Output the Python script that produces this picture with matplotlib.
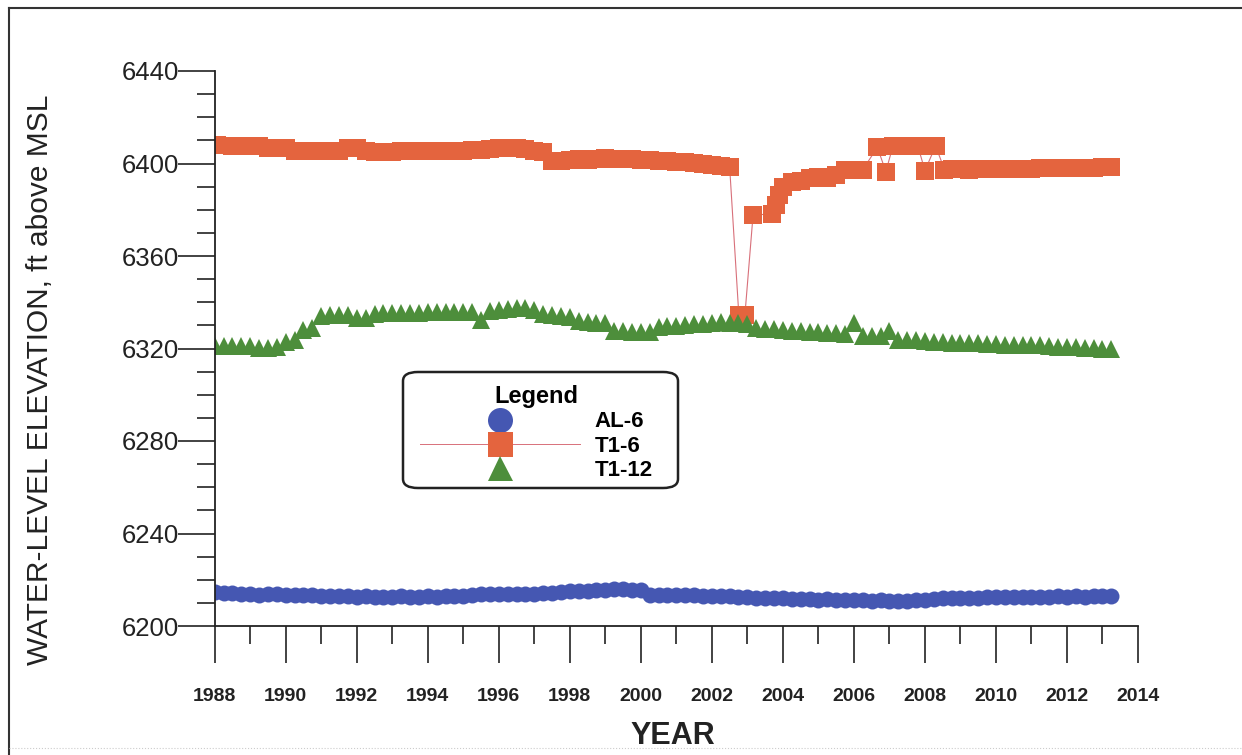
import numpy as np
import matplotlib
matplotlib.use("Agg")
import matplotlib.pyplot as plt
from matplotlib.lines import Line2D
from matplotlib.patches import FancyBboxPatch
from matplotlib.ticker import MultipleLocator

plt.rcParams['font.family'] = ['Liberation Sans', 'DejaVu Sans']

# quarterly readings, one row per year (2013 only has two)
al6_years = list(range(1988, 2014))
al6_level = [
    [6214.8, 6214.4, 6214.2, 6214.0],
    [6213.9, 6213.2, 6213.8, 6213.7],
    [6213.6, 6213.4, 6213.3, 6213.2],
    [6213.0, 6212.9, 6212.8, 6212.8],
    [6212.7, 6212.8, 6212.7, 6212.6],
    [6212.7, 6212.8, 6212.6, 6212.7],
    [6212.8, 6212.7, 6212.9, 6212.8],
    [6213.0, 6213.6, 6213.8, 6213.7],
    [6213.8, 6213.9, 6213.8, 6213.9],
    [6214.0, 6214.1, 6214.2, 6214.6],
    [6215.2, 6215.1, 6215.3, 6215.4],
    [6215.6, 6216.1, 6215.8, 6215.6],
    [6215.5, 6213.6, 6213.5, 6213.4],
    [6213.3, 6213.3, 6213.2, 6213.1],
    [6213.1, 6213.0, 6212.8, 6212.7],
    [6212.5, 6212.3, 6212.2, 6212.0],
    [6211.9, 6211.7, 6211.6, 6211.5],
    [6211.4, 6211.5, 6211.3, 6211.2],
    [6211.2, 6211.1, 6211.0, 6211.1],
    [6211.0, 6210.9, 6211.0, 6211.1],
    [6211.2, 6211.6, 6212.0, 6212.2],
    [6212.1, 6212.0, 6212.1, 6212.6],
    [6212.7, 6212.6, 6212.7, 6212.6],
    [6212.7, 6212.6, 6212.7, 6212.8],
    [6212.7, 6212.8, 6212.7, 6212.8],
    [6212.8, 6212.8],
]

t1_12_years = list(range(1988, 2014))
t1_12_level = [
    [6321.0, 6321.2, 6321.0, 6321.1],
    [6321.0, 6320.4, 6320.3, 6320.5],
    [6323.0, 6323.8, 6328.0, 6329.0],
    [6334.0, 6334.6, 6334.5, 6334.4],
    [6333.2, 6333.0, 6335.0, 6335.2],
    [6335.3, 6335.4, 6335.5, 6335.5],
    [6335.6, 6335.6, 6335.7, 6335.8],
    [6335.8, 6335.9, 6332.3, 6336.2],
    [6336.8, 6337.2, 6337.5, 6337.3],
    [6336.8, 6335.0, 6334.5, 6334.2],
    [6333.8, 6331.8, 6331.4, 6331.2],
    [6331.0, 6327.5, 6327.4, 6327.3],
    [6327.2, 6327.3, 6329.4, 6329.6],
    [6329.8, 6330.1, 6330.4, 6330.8],
    [6331.0, 6331.3, 6331.2, 6331.0],
    [6330.8, 6329.0, 6328.6, 6328.3],
    [6328.0, 6327.7, 6327.5, 6327.2],
    [6327.0, 6326.8, 6326.6, 6326.4],
    [6331.0, 6325.5, 6325.4, 6325.3],
    [6327.6, 6323.8, 6323.7, 6323.6],
    [6323.3, 6322.8, 6322.6, 6322.5],
    [6322.4, 6322.3, 6322.2, 6322.0],
    [6321.8, 6321.7, 6321.6, 6321.5],
    [6321.4, 6321.3, 6321.0, 6320.8],
    [6320.6, 6320.5, 6320.3, 6320.2],
    [6320.0, 6319.8],
]

# T1-6 was sampled irregularly around the 2002-2008 disturbance
t1_6_date = [
    1988.07, 1988.50, 1988.75, 1989.00, 1989.25, 1989.50, 1989.75,
    1990.00, 1990.25, 1990.50, 1990.75, 1991.00, 1991.25, 1991.50, 1991.75,
    1992.00, 1992.25, 1992.50, 1992.75, 1993.00, 1993.25, 1993.50, 1993.75,
    1994.00, 1994.25, 1994.50, 1994.75, 1995.00, 1995.25, 1995.50, 1995.75,
    1996.00, 1996.25, 1996.50, 1996.75, 1997.00, 1997.25, 1997.50, 1997.75,
    1998.00, 1998.25, 1998.50, 1998.75, 1999.00, 1999.25, 1999.50, 1999.75,
    2000.00, 2000.25, 2000.50, 2000.75, 2001.00, 2001.25, 2001.50, 2001.75,
    2002.00, 2002.25, 2002.50, 2002.76, 2002.93, 2003.16, 2003.69, 2003.80,
    2003.90, 2004.00, 2004.25, 2004.50, 2004.75, 2005.00, 2005.25, 2005.50,
    2005.75, 2006.00, 2006.25, 2006.66, 2006.90, 2007.10, 2007.35, 2007.60,
    2007.80, 2008.00, 2008.30, 2008.55, 2008.75,
    2009.00, 2009.25, 2009.50, 2009.75, 2010.00, 2010.25, 2010.50, 2010.75,
    2011.00, 2011.25, 2011.50, 2011.75, 2012.00, 2012.25, 2012.50, 2012.75,
    2013.00, 2013.25,
]
t1_6_level = [
    6408.2, 6407.6, 6407.7, 6407.6, 6407.5, 6406.7, 6406.6,
    6406.5, 6405.5, 6405.4, 6405.3, 6405.4, 6405.3, 6405.4, 6406.6,
    6406.5, 6405.2, 6405.1, 6405.0, 6405.1, 6405.2, 6405.5, 6405.4,
    6405.5, 6405.4, 6405.5, 6405.6, 6405.5, 6405.7, 6405.8, 6406.4,
    6406.6, 6406.8, 6406.7, 6406.4, 6405.5, 6405.0, 6400.9, 6401.0,
    6401.6, 6401.8, 6401.7, 6402.0, 6402.2, 6402.1, 6402.0, 6401.8,
    6401.6, 6401.5, 6401.2, 6400.9, 6400.8, 6400.5, 6400.3, 6399.8,
    6399.3, 6399.0, 6398.7, 6334.4, 6334.4, 6377.7, 6378.2, 6382.1,
    6386.4, 6390.0, 6392.0, 6392.3, 6393.9, 6394.3, 6393.8, 6395.0,
    6397.0, 6397.2, 6397.3, 6407.0, 6396.5, 6407.6, 6407.6, 6407.5,
    6407.6, 6396.9, 6407.6, 6397.4, 6397.5,
    6397.5, 6397.4, 6397.5, 6397.6, 6397.5, 6397.6, 6397.7, 6397.6,
    6397.8, 6397.9, 6398.0, 6397.9, 6398.0, 6398.1, 6398.0, 6398.2,
    6398.4, 6398.6,
]

series_names = ['AL-6', 'T1-6', 'T1-12']
blue = '#4557b2'
orange = '#e4643e'
green = '#4d8e3b'
pink = '#d8707a'
ink = '#222222'


def flatten(years, rows):
    """turn yearly rows of quarterly readings into (date, value) lists"""
    dates, vals = [], []
    for yr, row in zip(years, rows):
        for q, v in enumerate(row):
            dates.append(yr + q * 0.25)
            vals.append(v)
    return dates, vals


W, H = 1242, 755
fig = plt.figure(figsize=(W / 100, H / 100), dpi=100)
ax = fig.add_axes([214.7 / W, 1 - 626 / H, (1138 - 214.7) / W, (626 - 71) / H])

al_x, al_y = flatten(al6_years, al6_level)
gr_x, gr_y = flatten(t1_12_years, t1_12_level)

ax.plot(al_x, al_y, 'o', color=blue, markersize=11.5, markeredgewidth=0)
ax.plot(t1_6_date, t1_6_level, '-', color=pink, linewidth=0.8, zorder=2)
ax.plot(t1_6_date, t1_6_level, 's', color=orange, markersize=12.5,
        markeredgewidth=0, zorder=2.1)
ax.plot(gr_x, gr_y, '^', color=green, markersize=12.5, markeredgewidth=0,
        zorder=2.2)

ax.set_xlim(1988, 2014)
ax.set_ylim(6200, 6440)
ax.xaxis.set_major_locator(MultipleLocator(2))
ax.xaxis.set_minor_locator(MultipleLocator(1))
ax.yaxis.set_major_locator(MultipleLocator(40))
ax.yaxis.set_minor_locator(MultipleLocator(10))

for side in ['top', 'right']:
    ax.spines[side].set_visible(False)
for side in ['left', 'bottom']:
    ax.spines[side].set_linewidth(1.3)
    ax.spines[side].set_color(ink)

ax.tick_params(which='major', direction='out', length=26.5, width=1.2, color=ink)
ax.tick_params(which='minor', direction='out', length=13, width=1.2, color=ink)
ax.tick_params(axis='y', which='major', pad=-1, labelsize=18.5)
ax.tick_params(axis='x', which='major', pad=18, labelsize=14)
for lab in ax.get_xticklabels():
    lab.set_fontweight('bold')
    lab.set_color(ink)
for lab in ax.get_yticklabels():
    lab.set_color(ink)

fig.text(40 / W, 1 - 380 / H, 'WATER-LEVEL ELEVATION, ft above MSL',
         rotation=90, ha='center', va='center', fontsize=21.5, color=ink)
fig.text(673 / W, 1 - 736 / H, 'YEAR', ha='center', va='center',
         fontsize=22, fontweight='bold', color=ink)

# legend with bigger symbols than the plot, drawn in a rounded box
handles = [
    Line2D([], [], linestyle='none', marker='o', color=blue, markersize=18,
           markeredgewidth=0),
    Line2D([], [], linestyle='-', linewidth=0.7, marker='s', color=pink,
           markerfacecolor=orange, markersize=18, markeredgewidth=0),
    Line2D([], [], linestyle='none', marker='^', color=green, markersize=18,
           markeredgewidth=0),
]
leg = ax.legend(handles, series_names, title='Legend', loc='upper left',
                bbox_to_anchor=(420 / W, 1 - 385 / H),
                bbox_transform=fig.transFigure,
                prop={'weight': 'bold', 'size': 16},
                title_fontproperties={'weight': 'bold', 'size': 17},
                handlelength=7.2, handletextpad=0.65, labelspacing=0.15,
                borderpad=0, borderaxespad=0, frameon=False)
leg.set_zorder(6)

box = FancyBboxPatch((403 / W, 1 - 488 / H), (678 - 403) / W, (488 - 372) / H,
                     boxstyle='round,pad=0,rounding_size=0.012',
                     transform=fig.transFigure, facecolor='white',
                     edgecolor=ink, linewidth=1.8, zorder=5, clip_on=False)
ax.add_patch(box)

# page frame of the scanned figure
fig.add_artist(Line2D([9 / W, 9 / W], [1 - 8 / H, 0], transform=fig.transFigure,
                      color='#333333', linewidth=1.5))
fig.add_artist(Line2D([9 / W, 1], [1 - 8 / H, 1 - 8 / H],
                      transform=fig.transFigure, color='#333333', linewidth=1.5))
fig.add_artist(Line2D([9 / W, 1], [1 - 748 / H, 1 - 748 / H],
                      transform=fig.transFigure, color='#cccccc', linewidth=0.8,
                      linestyle=':'))

fig.savefig('out.png', dpi=100)
